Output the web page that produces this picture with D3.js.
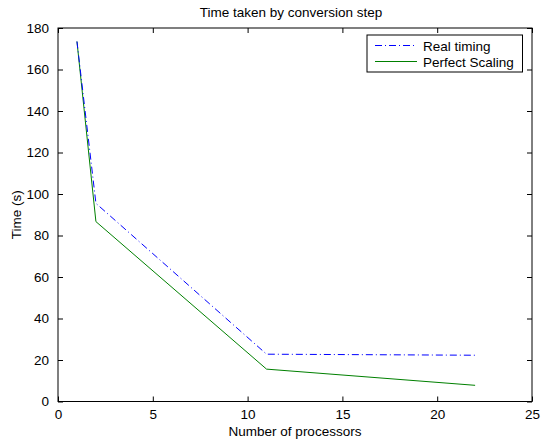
<!DOCTYPE html>
<html>
<head>
<meta charset="utf-8">
<script src="https://cdn.jsdelivr.net/npm/d3@7"></script>
<style>
  body { margin: 0; background: #fff; }
  text { font-family: Arial, "Liberation Sans", sans-serif; fill: #000; }
</style>
</head>
<body>
<div id="chart"></div>
<script>
// Data
const processors = [1, 2, 11, 22];
const realTiming = [173.5, 95.5, 22.8, 22.3];
const perfectScaling = [173.5, 86.7, 15.6, 7.8];
const xTicks = [0, 5, 10, 15, 20, 25];
const yTicks = [0, 20, 40, 60, 80, 100, 120, 140, 160, 180];

const width = 541, height = 441;
const margin = { top: 28, right: 9, bottom: 39.5, left: 58 };
const innerW = width - margin.left - margin.right;
const innerH = height - margin.top - margin.bottom;
const fontSize = "13.5px";

const svg = d3.select("#chart").append("svg")
    .attr("width", width)
    .attr("height", height);

const g = svg.append("g")
    .attr("transform", `translate(${margin.left},${margin.top})`);

const x = d3.scaleLinear().domain([0, 25]).range([0, innerW]);
const y = d3.scaleLinear().domain([0, 180]).range([innerH, 0]);

// Axes, ticks pointing inward on all four sides
function styleAxis(sel) {
    sel.select(".domain").remove();
    sel.selectAll(".tick line").attr("stroke", "#000");
    sel.selectAll("text").style("font-size", fontSize).attr("fill", "#000");
}
g.append("g")
    .attr("transform", `translate(0,${innerH})`)
    .call(d3.axisBottom(x).tickValues(xTicks).tickSize(-5).tickPadding(8))
    .call(styleAxis);
g.append("g")
    .call(d3.axisTop(x).tickValues(xTicks).tickSize(-5).tickFormat(""))
    .call(styleAxis);
g.append("g")
    .call(d3.axisLeft(y).tickValues(yTicks).tickSize(-5).tickPadding(9))
    .call(styleAxis);
g.append("g")
    .attr("transform", `translate(${innerW},0)`)
    .call(d3.axisRight(y).tickValues(yTicks).tickSize(-5).tickFormat(""))
    .call(styleAxis);

g.append("rect")
    .attr("width", innerW)
    .attr("height", innerH)
    .attr("fill", "none")
    .attr("stroke", "#000");

// Lines
const line = d3.line()
    .x((d, i) => x(processors[i]))
    .y(d => y(d));

g.append("path")
    .datum(perfectScaling)
    .attr("d", line)
    .attr("fill", "none")
    .attr("stroke", "#008000")
    .attr("stroke-width", 1);

g.append("path")
    .datum(realTiming)
    .attr("d", line)
    .attr("fill", "none")
    .attr("stroke", "#0000ff")
    .attr("stroke-width", 1)
    .attr("stroke-dasharray", "7,3,1,3");

// Title and labels
svg.append("text")
    .attr("x", margin.left + innerW / 2 - 4)
    .attr("y", 17)
    .attr("text-anchor", "middle")
    .style("font-size", fontSize)
    .text("Time taken by conversion step");

svg.append("text")
    .attr("x", margin.left + innerW / 2)
    .attr("y", 436)
    .attr("text-anchor", "middle")
    .style("font-size", fontSize)
    .text("Number of processors");

svg.append("text")
    .attr("transform", `translate(21,${margin.top + innerH / 2}) rotate(-90)`)
    .attr("text-anchor", "middle")
    .style("font-size", fontSize)
    .text("Time (s)");

// Legend
const legend = svg.append("g").attr("transform", "translate(367,35)");
legend.append("rect")
    .attr("width", 155.5)
    .attr("height", 37)
    .attr("fill", "#fff")
    .attr("stroke", "#000");

const entries = [
    { name: "Real timing", color: "#0000ff", dash: "7,3,1,3" },
    { name: "Perfect Scaling", color: "#008000", dash: null }
];
entries.forEach((e, i) => {
    const yy = 10.5 + i * 16;
    legend.append("line")
        .attr("x1", 8).attr("x2", 50)
        .attr("y1", yy).attr("y2", yy)
        .attr("stroke", e.color)
        .attr("stroke-dasharray", e.dash);
    legend.append("text")
        .attr("x", 56)
        .attr("y", yy + 5)
        .style("font-size", fontSize)
        .text(e.name);
});
</script>
</body>
</html>
